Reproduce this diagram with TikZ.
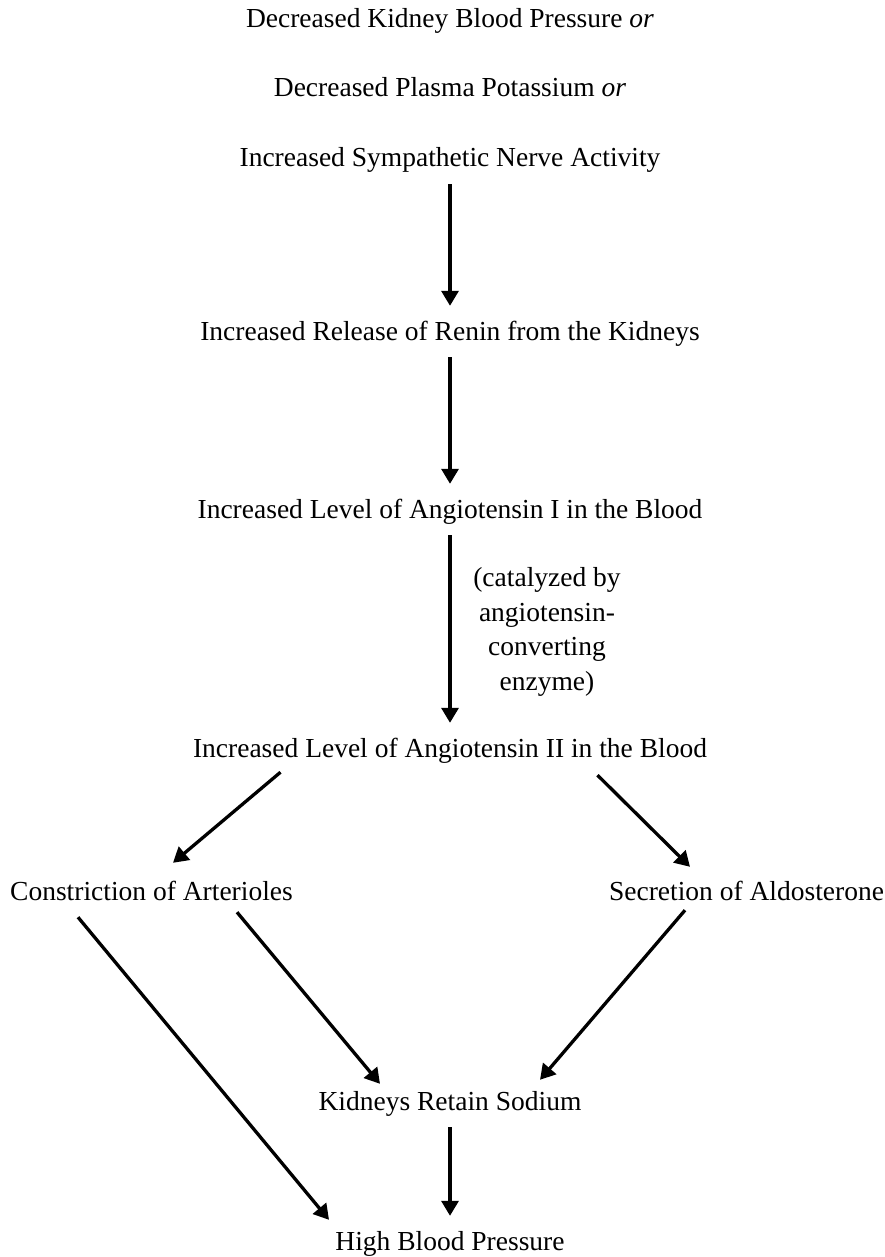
\documentclass[tikz,border=0pt]{standalone}
\usepackage{fontspec}
\setmainfont{Liberation Serif}
\usetikzlibrary{arrows.meta,positioning}

\begin{document}
\begin{tikzpicture}[x=1pt, y=1pt, node distance=70pt,
                    step arrow/.style={-{Triangle[width=17pt,length=15pt]}, line width=3.3pt},
                    down arrow/.style={step arrow, shorten <=10pt, shorten >=15pt},
                    main node/.style={font=\fontsize{27.5}{34.5}\selectfont, inner sep=0pt, text height=19pt, text depth=7pt}]
  \useasboundingbox (0,0) rectangle (885,-1257);

  \node[main node] (1) at (450,-22) {Decreased Kidney Blood Pressure \textit{or}};
  \node[main node] (2) [below of=1, node distance=69pt] {Decreased Plasma Potassium \textit{or}};
  \node[main node] (3) [below of=2] {Increased Sympathetic Nerve Activity};
  \node[main node] (4) [below of=3, node distance=173pt] {Increased Release of Renin from the Kidneys};
  \node[main node] (5) [below of=4, node distance=178pt] {Increased Level of Angiotensin I in the Blood};
  \node[main node] (6) [below of=5, node distance=239pt] {Increased Level of Angiotensin II in the Blood};
  \node[main node] (7) at (151.5,-894) {Constriction of Arterioles};
  \node[main node] (8) at (746.5,-894) {Secretion of Aldosterone};
  \node[main node] (9) at (450,-1104) {Kidneys Retain Sodium};
  \node[main node] (10) [below of=9, node distance=140pt] {High Blood Pressure};

  \node[main node, align=center, text height=, text depth=] (enzyme) at (547,-632)
    {(catalyzed by\\angiotensin-\\converting\\enzyme)};

  \draw[down arrow] (3) -- (4);
  \draw[down arrow] (4) -- (5);
  \draw[down arrow] (5) -- (6);
  \draw[down arrow] (9) -- (10);

  \draw[step arrow] ([xshift=-169.5pt,yshift=-8pt]6.south) -- ([xshift=21.5pt,yshift=18pt]7.north);
  \draw[step arrow] ([xshift=147.5pt,yshift=-11pt]6.south) -- ([xshift=-56.5pt,yshift=14pt]8.north);
  \draw[step arrow] ([xshift=85.5pt,yshift=-5pt]7.south) -- ([xshift=-70pt,yshift=7pt]9.north);
  \draw[step arrow] ([xshift=-61.5pt,yshift=-3pt]8.south) -- ([xshift=90pt,yshift=11pt]9.north);
  \draw[step arrow] ([xshift=-73.5pt,yshift=-10pt]7.south) -- ([xshift=-121pt,yshift=11pt]10.north);
\end{tikzpicture}
\end{document}
